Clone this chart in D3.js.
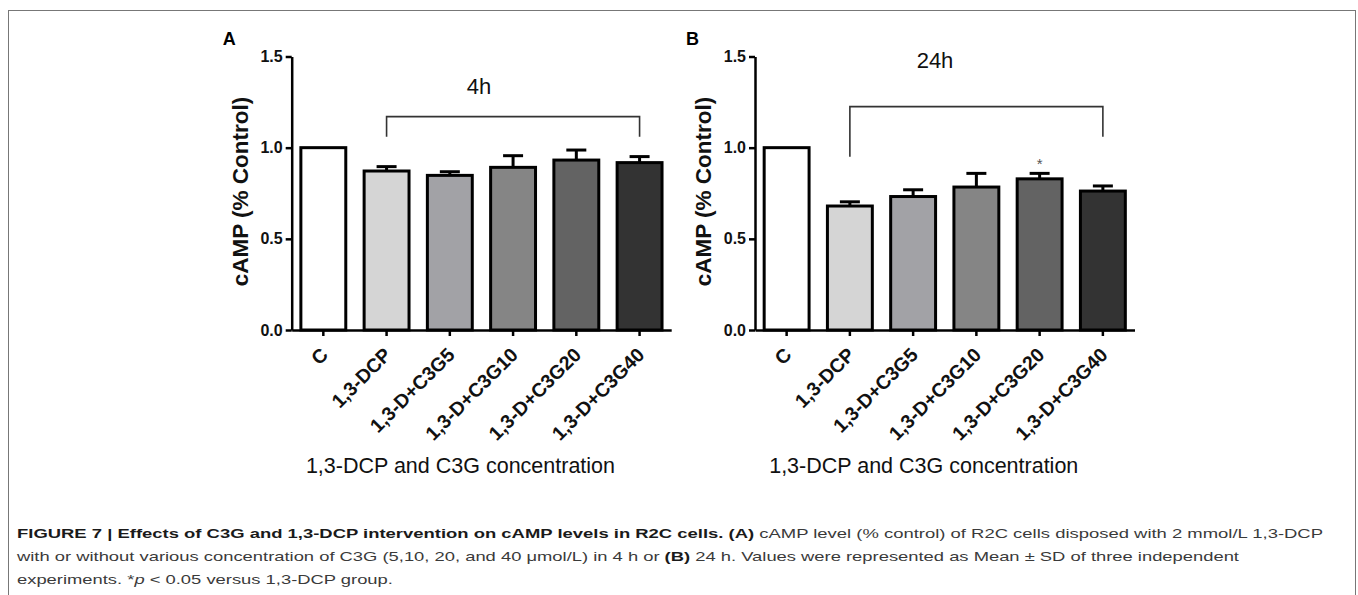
<!DOCTYPE html>
<html>
<head>
<meta charset="utf-8">
<script src="https://cdn.jsdelivr.net/npm/d3@7"></script>
<style>
  body { margin: 0; background: #fff; }
  svg { display: block; font-family: "Liberation Sans", Arial, sans-serif; }
</style>
</head>
<body>
<svg id="fig" width="1358" height="595"></svg>
<script>
// groups on the x axis
var categories = ['C', '1,3-DCP', '1,3-D+C3G5', '1,3-D+C3G10', '1,3-D+C3G20', '1,3-D+C3G40'];

// cAMP (% control), mean and SD
var means4h = [1.0, 0.872, 0.848, 0.892, 0.932, 0.918];
var sd4h = [0, 0.024, 0.020, 0.064, 0.055, 0.033];
var means24h = [1.0, 0.680, 0.732, 0.784, 0.829, 0.762];
var sd24h = [0, 0.023, 0.037, 0.075, 0.030, 0.028];

var barColors = ['#ffffff', '#d5d5d5', '#a2a2a6', '#858585', '#636363', '#333333'];
var yTicks = [0, 0.5, 1.0, 1.5];

var captionLines = [
    [{t: 'FIGURE 7 | Effects of C3G and 1,3-DCP intervention on cAMP levels in R2C cells. (A)', b: true},
     {t: ' cAMP level (% control) of R2C cells disposed with 2 mmol/L 1,3-DCP'}],
    [{t: 'with or without various concentration of C3G (5,10, 20, and 40 \u03bcmol/L) in 4 h or '},
     {t: '(B)', b: true},
     {t: ' 24 h. Values were represented as Mean \u00b1 SD of three independent'}],
    [{t: 'experiments. *'}, {t: 'p', i: true}, {t: ' < 0.05 versus 1,3-DCP group.'}]
];

var svg = d3.select('#fig');

// outer frame of the figure
svg.append('rect')
    .attr('x', 8.5).attr('y', 10.5)
    .attr('width', 1347).attr('height', 600)
    .attr('fill', 'none').attr('stroke', '#777').attr('stroke-width', 1);

var panels = [
    {letter: 'A', left: 291.7, title: '4h', titleX: 479, titleY: 94,
     means: means4h, sd: sd4h, star: -1,
     bracket: {y: 1.17, leftEnd: 1.06, rightEnd: 1.06}},
    {letter: 'B', left: 755, title: '24h', titleX: 935, titleY: 68,
     means: means24h, sd: sd24h, star: 4,
     bracket: {y: 1.225, leftEnd: 0.95, rightEnd: 1.06}}
];

var plotTop = 56.5, plotBottom = 330, plotWidth = 379.5;

var y = d3.scaleLinear().domain([0, 1.5]).range([plotBottom, plotTop]);

panels.forEach(function(p) {
    var g = svg.append('g');
    var x = d3.scaleBand()
        .domain(categories)
        .range([p.left, p.left + plotWidth])
        .paddingInner(0.29)
        .paddingOuter(0.145);

    var rows = categories.map(function(c, i) {
        return {cat: c, mean: p.means[i], sd: p.sd[i], color: barColors[i]};
    });

    // bars
    g.selectAll('rect.bar').data(rows).enter().append('rect')
        .attr('class', 'bar')
        .attr('x', function(d) { return x(d.cat); })
        .attr('y', function(d) { return y(d.mean); })
        .attr('width', x.bandwidth())
        .attr('height', function(d) { return y(0) - y(d.mean); })
        .attr('fill', function(d) { return d.color; })
        .attr('stroke', '#000').attr('stroke-width', 3);

    // upper error bars only
    var err = g.selectAll('g.err').data(rows.filter(function(d) { return d.sd > 0; }))
        .enter().append('g').attr('class', 'err')
        .attr('stroke', '#000').attr('stroke-width', 3);
    err.append('line')
        .attr('x1', function(d) { return x(d.cat) + x.bandwidth() / 2; })
        .attr('x2', function(d) { return x(d.cat) + x.bandwidth() / 2; })
        .attr('y1', function(d) { return y(d.mean); })
        .attr('y2', function(d) { return y(d.mean + d.sd); });
    err.append('line')
        .attr('x1', function(d) { return x(d.cat) + x.bandwidth() / 2 - 10; })
        .attr('x2', function(d) { return x(d.cat) + x.bandwidth() / 2 + 10; })
        .attr('y1', function(d) { return y(d.mean + d.sd); })
        .attr('y2', function(d) { return y(d.mean + d.sd); });

    // y axis
    var yAxis = g.append('g')
        .attr('transform', 'translate(' + p.left + ',0)')
        .call(d3.axisLeft(y).tickValues(yTicks).tickFormat(d3.format('.1f'))
            .tickSize(6).tickSizeOuter(0).tickPadding(3));
    yAxis.selectAll('path, line').attr('stroke', '#000').attr('stroke-width', 2.5);
    yAxis.selectAll('text')
        .attr('fill', '#111')
        .style('font-size', '16px').style('font-weight', 'bold')
        .style('font-family', '"Liberation Sans", Arial, sans-serif');

    // x axis
    var xAxis = g.append('g')
        .attr('transform', 'translate(0,' + plotBottom + ')')
        .call(d3.axisBottom(x).tickSize(6).tickSizeOuter(0));
    xAxis.selectAll('path, line').attr('stroke', '#000').attr('stroke-width', 2.5);
    xAxis.selectAll('text')
        .attr('x', 0).attr('y', 0).attr('dy', 0)
        .attr('transform', 'translate(6,26) rotate(-45)')
        .attr('text-anchor', 'end')
        .attr('fill', '#111')
        .style('font-size', '19.5px').style('font-weight', 'bold')
        .style('font-family', '"Liberation Sans", Arial, sans-serif');

    // y axis title
    g.append('text')
        .attr('transform', 'translate(' + (p.left - 44) + ',' + 191.5 + ') rotate(-90)')
        .attr('text-anchor', 'middle')
        .attr('fill', '#111')
        .style('font-size', '22.5px').style('font-weight', 'bold')
        .text('cAMP (% Control)');

    // x axis title
    g.append('text')
        .attr('x', p.left + plotWidth / 2 - 21)
        .attr('y', 473)
        .attr('text-anchor', 'middle')
        .attr('fill', '#111')
        .style('font-size', '21.5px')
        .text('1,3-DCP and C3G concentration');

    // panel letter
    g.append('text')
        .attr('x', p.left - 69).attr('y', 45)
        .attr('fill', '#000')
        .style('font-size', '18px').style('font-weight', 'bold')
        .text(p.letter);

    // time label
    g.append('text')
        .attr('x', p.titleX).attr('y', p.titleY)
        .attr('text-anchor', 'middle')
        .attr('fill', '#111')
        .style('font-size', '22px')
        .text(p.title);

    // comparison bracket from 1,3-DCP to the last group
    var bx1 = x(categories[1]) + x.bandwidth() / 2;
    var bx2 = x(categories[categories.length - 1]) + x.bandwidth() / 2;
    g.append('path')
        .attr('d', 'M' + bx1 + ',' + y(p.bracket.leftEnd) +
            'V' + y(p.bracket.y) + 'H' + bx2 + 'V' + y(p.bracket.rightEnd))
        .attr('fill', 'none').attr('stroke', '#333').attr('stroke-width', 1.6);

    // significance mark
    if (p.star >= 0) {
        var s = rows[p.star];
        g.append('text')
            .attr('x', x(s.cat) + x.bandwidth() / 2)
            .attr('y', y(s.mean + s.sd) - 4)
            .attr('text-anchor', 'middle')
            .attr('fill', '#555')
            .style('font-size', '15px')
            .text('*');
    }
});

// caption: the first two lines are fitted to the reference line ends,
// the short last line uses the same squeeze as line two
var captionFits = [1306, 1222];
var squeeze = 1;
captionLines.forEach(function(line, i) {
    var t = svg.append('text')
        .attr('x', 17)
        .attr('y', 538 + i * 23)
        .attr('fill', '#3a3a3a')
        .style('font-size', '13.5px');
    line.forEach(function(seg) {
        t.append('tspan')
            .style('font-weight', seg.b ? 'bold' : 'normal')
            .style('font-style', seg.i ? 'italic' : 'normal')
            .attr('fill', seg.b ? '#1a1a1a' : '#3a3a3a')
            .text(seg.t);
    });
    var natural = t.node().getComputedTextLength();
    var target = i < captionFits.length ? captionFits[i] : natural * squeeze;
    if (i === 1) squeeze = captionFits[i] / natural;
    t.attr('textLength', target).attr('lengthAdjust', 'spacingAndGlyphs');
});
</script>
</body>
</html>
